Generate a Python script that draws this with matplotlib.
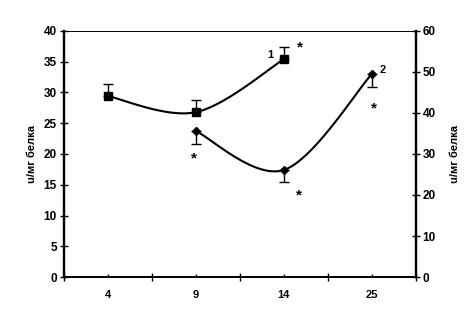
import numpy as np
import matplotlib
matplotlib.use('Agg')
import matplotlib.pyplot as plt

plt.rcParams['font.family'] = ['Liberation Sans', 'DejaVu Sans']
plt.rcParams['font.weight'] = 'bold'

# data
categories = ['4', '9', '14', '25']
s1_x = [0, 1, 2]
s1_y = [29.4, 26.8, 35.4]
s1_err = [2.0, 2.0, 2.0]
s2_x = [1, 2, 3]
s2_y = [35.6, 26.1, 49.5]
s2_err = [3.2, 3.0, 3.1]
star_left = [(2.18, 37.4)]
star_right = [(0.98, 29.0), (2.17, 20.0), (3.02, 41.0)]
ylabel = 'u/мг белка'


def smooth(x, y, n=40):
    # Catmull-Rom spline through the points (like Excel smoothed lines)
    x = np.asarray(x, float)
    y = np.asarray(y, float)
    px = np.concatenate([[x[0]], x, [x[-1]]])
    py = np.concatenate([[y[0]], y, [y[-1]]])
    xs, ys = [], []
    t = np.linspace(0, 1, n)
    for i in range(1, len(px) - 2):
        p0, p1, p2, p3 = [np.array([px[j], py[j]]) for j in range(i - 1, i + 3)]
        c1 = p1 + (p2 - p0) / 6
        c2 = p2 - (p3 - p1) / 6
        pts = ((1 - t) ** 3)[:, None] * p1 + (3 * (1 - t) ** 2 * t)[:, None] * c1 \
            + (3 * (1 - t) * t ** 2)[:, None] * c2 + (t ** 3)[:, None] * p2
        xs.append(pts[:, 0])
        ys.append(pts[:, 1])
    return np.concatenate(xs), np.concatenate(ys)


fig = plt.figure(figsize=(4.73, 3.13), dpi=100)
ax = fig.add_axes([0.135, 0.115, 0.744, 0.786])
ax2 = ax.twinx()

ax.set_xlim(-0.5, 3.5)
ax.set_ylim(0, 40)
ax2.set_ylim(0, 60)

# series 1 (left axis)
sx, sy = smooth(s1_x, s1_y)
ax.plot(sx, sy, color='black', lw=1.5)
ax.errorbar(s1_x, s1_y, yerr=[np.zeros(3), s1_err], fmt='s', color='black',
            ms=5.5, capsize=3.5, elinewidth=1, capthick=1)

# series 2 (right axis)
sx, sy = smooth(s2_x, s2_y)
ax2.plot(sx, sy, color='black', lw=1.5)
ax2.errorbar(s2_x, s2_y, yerr=[s2_err, np.zeros(3)], fmt='D', color='black',
             ms=4.5, capsize=3.5, elinewidth=1, capthick=1)

for x, y in star_left:
    ax.text(x, y, '*', ha='center', va='center', fontsize=11, fontweight='bold')
for x, y in star_right:
    ax2.text(x, y, '*', ha='center', va='center', fontsize=11, fontweight='bold')

ax.text(1.85, 36.1, '1', ha='center', va='center', fontsize=8)
ax2.text(3.13, 50.5, '2', ha='center', va='center', fontsize=8)

# axes styling
ax.set_yticks(np.arange(0, 41, 5))
ax2.set_yticks(np.arange(0, 61, 10))
ax.set_xticks(np.arange(-0.5, 3.6, 1))
ax.set_xticklabels([])
ax.set_xticks(range(4), minor=True)
ax.set_xticklabels(categories, minor=True)
ax.tick_params(axis='x', which='major', direction='inout', length=6, width=1)
ax.tick_params(axis='x', which='minor', direction='in', length=2.5, width=1, pad=9, labelsize=8)
ax.tick_params(axis='y', direction='inout', length=6, width=1, labelsize=8.5, pad=2)
ax2.tick_params(axis='y', direction='inout', length=6, width=1, labelsize=8.5, pad=2)

for a in (ax, ax2):
    a.spines['left'].set_linewidth(1.6)
    a.spines['right'].set_linewidth(1.6)
    a.spines['bottom'].set_linewidth(1.3)
    a.spines['top'].set_linewidth(0.6)

ax.set_ylabel(ylabel, fontsize=8, fontweight='bold', labelpad=5)
ax2.set_ylabel(ylabel, fontsize=8, fontweight='bold', labelpad=10)

fig.savefig('out.png', dpi=100)
